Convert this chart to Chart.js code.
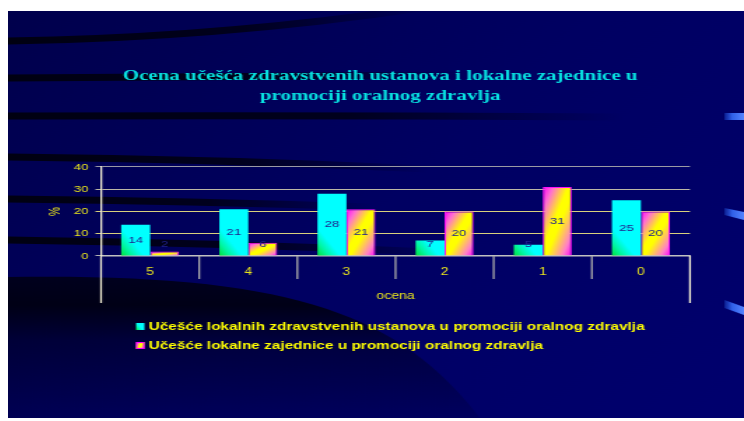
<!DOCTYPE html>
<html>
<head>
<meta charset="utf-8">
<script src="https://cdn.jsdelivr.net/npm/chart.js@4.4.1/dist/chart.umd.min.js"></script>
<style>
  html, body { margin: 0; padding: 0; background: #fff; }
  body { width: 744px; height: 421px; position: relative; overflow: hidden; }
  /* the slide is drawn narrow and stretched sideways, like the original slide */
  #slide { position: absolute; left: 8px; top: 11px; transform: scaleX(1.3992); transform-origin: 0 0; }
</style>
</head>
<body>
<canvas id="slide" width="526" height="407"></canvas>
<script>
const categories = ['5', '4', '3', '2', '1', '0'];
const healthInstitutions = [14, 21, 28, 7, 5, 25];
const localCommunity = [2, 6, 21, 20, 31, 20];
const yMin = 0, yMax = 40, yStep = 10;
const seriesNames = [
  'Učešće lokalnih zdravstvenih ustanova u promociji oralnog zdravlja',
  'Učešće lokalne zajednice u promociji oralnog zdravlja'
];
const chartTitle = ['Ocena učešća zdravstvenih ustanova i lokalne zajednice u', 'promociji oralnog zdravlja'];
const xTitle = 'ocena';
const yTitle = '%';

const SANS = '"Liberation Sans", Arial, sans-serif';
const SERIF = '"Liberation Serif", "Times New Roman", serif';
const YELLOW = '#e8e41c';
const CAT_PCT = 0.59;

const cyanStops = [[0, '#00e038'], [0.3, '#00f6a4'], [0.6, '#00ffff'], [1, '#00ffff']];
const yellowStops = [[0, '#ff00ff'], [0.18, '#ff70d0'], [0.44, '#ffff00'], [0.56, '#ffff00'], [0.84, '#ff80c8'], [1, '#ff00ff']];
const gridColors = {0: '#b4b4b4', 10: '#d8d07c', 20: '#d8d07c', 30: '#bcb8a6', 40: '#9a9aa4'};

// cyan fill: mostly left-to-right, tilted slightly upwards
function sideGradient(ctx, x, y, w, h, stops) {
  const g = ctx.createLinearGradient(x, y + h, x + w, y + h - w * 0.6);
  stops.forEach(([o, c]) => g.addColorStop(o, c));
  return g;
}

// yellow fill: laid out on the box diagonal, top-left to bottom-right
function diagonalGradient(ctx, x, y, w, h, stops) {
  const k = 2 * w * h / (w * w + h * h);
  const g = ctx.createLinearGradient(x, y, x + h * k, y + w * k);
  stops.forEach(([o, c]) => g.addColorStop(o, c));
  return g;
}

// where a bar sits, taken from the chart's own scales
function barBox(c) {
  const xs = c.chart.scales.x, ys = c.chart.scales.y;
  const pair = (xs.right - xs.left) / categories.length * CAT_PCT;
  const w = pair / 2;
  const x = xs.getPixelForValue(c.dataIndex) - pair / 2 + c.datasetIndex * w;
  const top = ys.getPixelForValue(c.raw);
  const base = ys.getPixelForValue(0);
  return {x, y: top, w, h: Math.max(base - top, 1)};
}

function barFill(makeGradient, stops, fallback) {
  return c => {
    if (c.type !== 'data' || !c.chart.chartArea) return fallback;
    const b = barBox(c);
    return makeGradient(c.chart.ctx, b.x, b.y, b.w, b.h, stops);
  };
}

// dark curved stripes of the slide background: start y, control, end, fade length
const swooshes = [
  [30, 150, 27, 300, -4, 300],
  [67, 160, 66, 330, 64, 330],
  [105, 220, 104, 440, 106, 440],
  [146, 150, 148, 300, 158, 300],
  [188, 130, 190, 260, 196, 260],
  [229, 160, 232, 320, 242, 320]
];

const slideBackground = {
  id: 'slideBackground',
  beforeDraw(chart) {
    const {ctx, width, height} = chart;
    ctx.save();
    const bg = ctx.createLinearGradient(0, 0, width, height);
    bg.addColorStop(0, '#00004c');
    bg.addColorStop(0.5, '#000062');
    bg.addColorStop(1, '#00006e');
    ctx.fillStyle = bg;
    ctx.fillRect(0, 0, width, height);

    ctx.lineWidth = 7;
    swooshes.forEach(([y0, cx, cy, x1, y1, fade]) => {
      const g = ctx.createLinearGradient(0, 0, fade, 0);
      g.addColorStop(0, 'rgba(0,0,14,0.95)');
      g.addColorStop(0.55, 'rgba(0,0,14,0.8)');
      g.addColorStop(1, 'rgba(0,0,14,0)');
      ctx.strokeStyle = g;
      ctx.beginPath();
      ctx.moveTo(0, y0);
      ctx.quadraticCurveTo(cx, cy, x1, y1);
      ctx.stroke();
    });

    // the wide dark sweep in the lower left, fading downwards
    const dark = ctx.createLinearGradient(0, 266, 0, height);
    dark.addColorStop(0, 'rgba(0,0,10,0.75)');
    dark.addColorStop(0.2, 'rgba(0,0,10,0.85)');
    dark.addColorStop(0.45, 'rgba(0,0,10,0.42)');
    dark.addColorStop(1, 'rgba(0,0,10,0.1)');
    ctx.fillStyle = dark;
    ctx.beginPath();
    ctx.moveTo(0, 266);
    ctx.bezierCurveTo(200, 262, 280, 300, 340, height + 5);
    ctx.lineTo(0, height + 5);
    ctx.closePath();
    ctx.fill();

    // blue tabs on the right edge
    const tabs = [
      [[512, 102], [526, 102], [526, 109], [512, 109]],
      [[512, 197], [526, 201], [526, 209], [512, 204]],
      [[512, 289], [526, 296], [526, 304], [512, 297]]
    ];
    const tg = ctx.createLinearGradient(512, 0, 526, 0);
    tg.addColorStop(0, '#0a1c90');
    tg.addColorStop(0.4, '#3060e8');
    tg.addColorStop(1, '#5584ff');
    ctx.fillStyle = tg;
    tabs.forEach(pts => {
      ctx.beginPath();
      pts.forEach(([x, y], i) => i ? ctx.lineTo(x, y) : ctx.moveTo(x, y));
      ctx.closePath();
      ctx.fill();
    });
    ctx.restore();
  }
};

const axisFrame = {
  id: 'axisFrame',
  afterDatasetsDraw(chart) {
    const {ctx, chartArea: {left, right, bottom}} = chart;
    const xs = chart.scales.x;
    const step = (xs.right - xs.left) / categories.length;
    ctx.save();
    ctx.strokeStyle = '#aaaaaa';
    ctx.lineWidth = 1.3;
    for (let i = 1; i < categories.length; i++) {
      const x = xs.left + i * step;
      ctx.beginPath();
      ctx.moveTo(x, bottom);
      ctx.lineTo(x, bottom + 23);
      ctx.stroke();
    }
    ctx.strokeStyle = '#f4f0d4';
    [left, right].forEach(x => {
      ctx.beginPath();
      ctx.moveTo(x, bottom);
      ctx.lineTo(x, bottom + 47);
      ctx.stroke();
    });
    ctx.restore();
  }
};

const valueLabels = {
  id: 'valueLabels',
  afterDatasetsDraw(chart) {
    const {ctx} = chart;
    ctx.save();
    ctx.font = '9.5px ' + SANS;
    ctx.fillStyle = '#20208c';
    ctx.textAlign = 'center';
    ctx.textBaseline = 'middle';
    chart.data.datasets.forEach((ds, di) => {
      chart.getDatasetMeta(di).data.forEach((bar, i) => {
        const y = Math.min((bar.y + bar.base) / 2, bar.base - 11);
        ctx.fillText(String(ds.data[i]), bar.x, y);
      });
    });
    ctx.restore();
  }
};

const slideLegend = {
  id: 'slideLegend',
  afterDraw(chart) {
    const {ctx} = chart;
    const rows = [315.5, 334.5];
    ctx.save();
    ctx.font = 'bold 11px ' + SANS;
    ctx.textBaseline = 'middle';
    chart.data.datasets.forEach((ds, i) => {
      const y = rows[i];
      const sx = 91.5, sy = y - 3.5, sw = 6, sh = 7;
      ctx.fillStyle = i
        ? diagonalGradient(ctx, sx, sy, sw, sh, yellowStops)
        : sideGradient(ctx, sx, sy, sw, sh, cyanStops);
      ctx.fillRect(sx, sy, sw, sh);
      if (i) {
        ctx.strokeStyle = '#ff00ff';
        ctx.lineWidth = 1;
        ctx.strokeRect(sx + 0.5, sy + 0.5, sw - 1, sh - 1);
      }
      ctx.fillStyle = '#ffff00';
      ctx.fillText(ds.label, 100.5, y);
    });
    ctx.restore();
  }
};

new Chart(document.getElementById('slide'), {
  type: 'bar',
  data: {
    labels: categories,
    datasets: [
      {
        label: seriesNames[0],
        data: healthInstitutions,
        backgroundColor: barFill(sideGradient, cyanStops, '#00ffff'),
        borderWidth: 0
      },
      {
        label: seriesNames[1],
        data: localCommunity,
        backgroundColor: barFill(diagonalGradient, yellowStops, '#ffff00'),
        borderColor: '#ff10f8',
        borderWidth: 1
      }
    ]
  },
  options: {
    responsive: false,
    animation: false,
    categoryPercentage: CAT_PCT,
    barPercentage: 1,
    layout: {padding: {left: 44.6, right: 38.6, top: 0, bottom: 102}},
    plugins: {
      legend: {display: false},
      tooltip: {enabled: false},
      title: {
        display: true,
        text: chartTitle,
        color: '#08e2e2',
        font: {family: SERIF, size: 15, weight: 'bold', lineHeight: 1.3333},
        padding: {top: 55.5, bottom: 60.5}
      }
    },
    scales: {
      x: {
        grid: {display: false, drawTicks: false},
        border: {display: true, color: '#c0c0c0', width: 1.5},
        ticks: {color: YELLOW, font: {family: SANS, size: 10}, padding: 10},
        title: {display: true, text: xTitle, color: YELLOW, font: {family: SANS, size: 10}, padding: {top: 0, bottom: 14}},
        afterFit: s => { s.height = 60; }
      },
      y: {
        min: yMin,
        max: yMax,
        ticks: {stepSize: yStep, color: YELLOW, font: {family: SANS, size: 9.5}, padding: 5},
        grid: {color: c => gridColors[c.tick.value] || '#cccccc', lineWidth: 1, tickLength: 4},
        border: {display: true, color: '#f4f0d4', width: 1.3},
        title: {display: true, text: yTitle, color: YELLOW, font: {family: SANS, size: 10}, padding: {top: -16.3, bottom: 0}},
        afterFit: s => { s.width = 21.9; }
      }
    }
  },
  plugins: [slideBackground, axisFrame, valueLabels, slideLegend]
});
</script>
</body>
</html>
